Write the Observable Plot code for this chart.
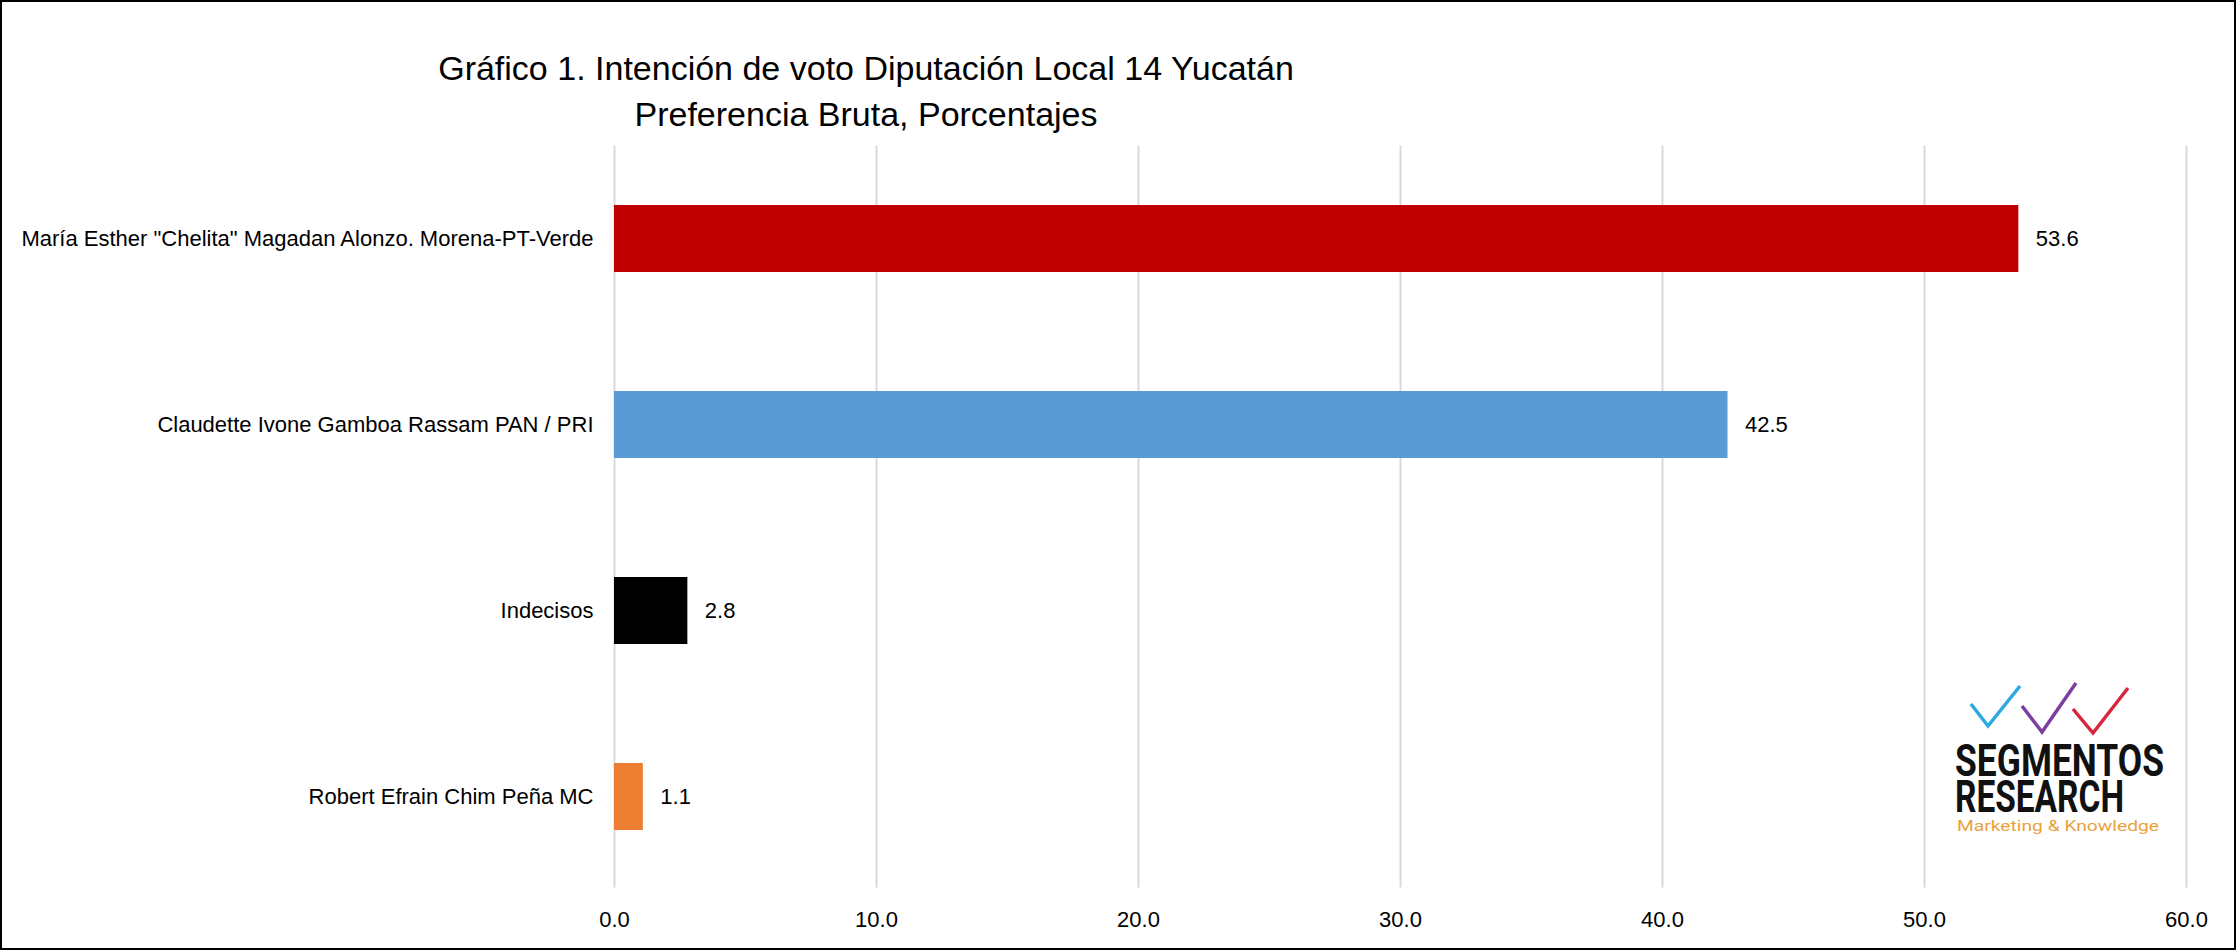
<!DOCTYPE html>
<html>
<head>
<meta charset="utf-8">
<script src="https://cdn.jsdelivr.net/npm/d3@7"></script>
<script src="https://cdn.jsdelivr.net/npm/@observablehq/plot@0.6"></script>
<style>
  html, body { margin: 0; padding: 0; background: #fff; }
  #wrap { position: relative; width: 2236px; height: 950px; box-sizing: border-box; border: 2px solid #000; background: #fff; overflow: hidden; font-family: "Liberation Sans", Arial, sans-serif; }
  #title { position: relative; height: 140px; }
  .tline { position: absolute; left: 864px; transform: translateX(-50%); white-space: nowrap; font-size: 34px; line-height: 1; color: #000; }
  #chart svg text { font-family: "Liberation Sans", Arial, sans-serif; font-size: 22px; fill: #000; }
  #logo { position: absolute; left: 1938px; top: 668px; }
</style>
</head>
<body>
<div id="wrap">
  <div id="title">
    <div class="tline" style="top:49px">Gráfico 1. Intención de voto Diputación Local 14 Yucatán</div>
    <div class="tline" style="top:95px">Preferencia Bruta, Porcentajes</div>
  </div>
  <div id="chart"></div>
  <svg id="logo" width="296" height="180" viewBox="0 0 296 180">
    <polyline points="31,34 48,56 80,16" fill="none" stroke="#29ABE2" stroke-width="3.5"/>
    <polyline points="82,36 102,62 136,13" fill="none" stroke="#7B3FA0" stroke-width="3.5"/>
    <polyline points="133,39 153,63 188,18" fill="none" stroke="#D7263D" stroke-width="3.5"/>
    <text font-family="Roboto, 'Liberation Sans', sans-serif" font-weight="bold" font-size="44" fill="#111"><tspan x="15" y="106" textLength="209" lengthAdjust="spacingAndGlyphs">SEGMENTOS</tspan><tspan x="15" y="142" textLength="169" lengthAdjust="spacingAndGlyphs">RESEARCH</tspan><tspan x="17" y="161" textLength="202" lengthAdjust="spacingAndGlyphs" font-weight="normal" font-size="15" fill="#E9A23B">Marketing &amp; Knowledge</tspan></text>
  </svg>
</div>
<script>
const categories = [
  "María Esther \"Chelita\" Magadan Alonzo. Morena-PT-Verde",
  "Claudette Ivone Gamboa Rassam PAN / PRI",
  "Indecisos",
  "Robert Efrain Chim Peña MC"
];
const values = [53.6, 42.5, 2.8, 1.1];
const barColors = ["#C00000", "#5B9BD5", "#000000", "#ED7D31"];
const xTicks = [0, 10, 20, 30, 40, 50, 60];

const data = categories.map((c, i) => ({cat: c, value: values[i]}));

const chart = Plot.plot({
  width: 2232,
  height: 806,
  marginTop: 3.5,
  marginBottom: 58.5,
  marginLeft: 612,
  marginRight: 48,
  style: {fontFamily: "Liberation Sans, Arial, sans-serif", fontSize: "22px", color: "#000", background: "#fff"},
  x: {domain: [0, 60], ticks: xTicks, tickFormat: d => d.toFixed(1), tickSize: 0, tickPadding: 21, label: null},
  y: {domain: categories, paddingInner: 0.64, paddingOuter: 0.32, tickSize: 0, tickPadding: 21, label: null},
  color: {domain: categories, range: barColors},
  marks: [
    Plot.ruleX(xTicks, {stroke: "#D9D9D9", strokeWidth: 2, insetTop: 0, insetBottom: 2}),
    Plot.barX(data, {x: "value", y: "cat", fill: "cat"}),
    Plot.text(data, {x: "value", y: "cat", text: d => d.value.toFixed(1), dx: 17, textAnchor: "start", fontSize: 22, fill: "#000"})
  ]
});
document.getElementById("chart").appendChild(chart);
</script>
</body>
</html>
